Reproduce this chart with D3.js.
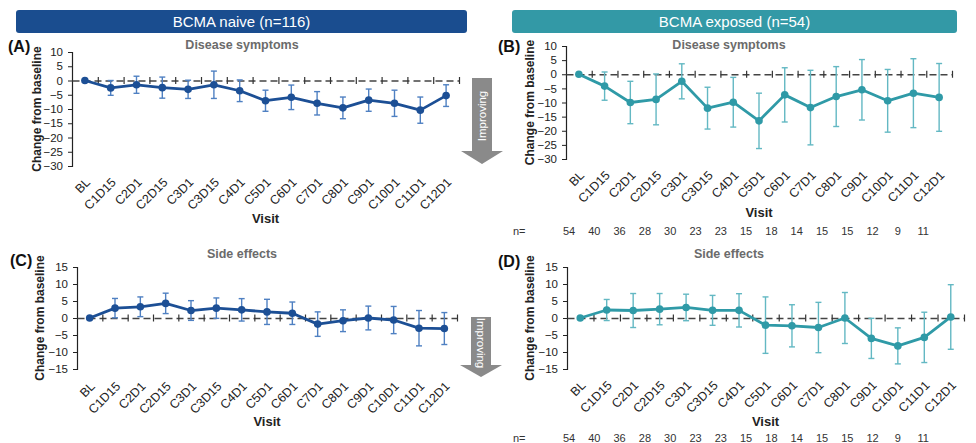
<!DOCTYPE html>
<html>
<head>
<meta charset="utf-8">
<script src="https://cdn.jsdelivr.net/npm/d3@7/dist/d3.min.js"></script>
<style>
  html, body { margin: 0; padding: 0; background: #fff; }
  svg { display: block; font-family: "Liberation Sans", Arial, sans-serif; }
</style>
</head>
<body>
<svg id="chart" width="976" height="443"></svg>
<script>
// Visits shared by all four panels
const visits = ["BL", "C1D15", "C2D1", "C2D15", "C3D1", "C3D15", "C4D1", "C5D1",
  "C6D1", "C7D1", "C8D1", "C9D1", "C10D1", "C11D1", "C12D1"];

// Mean change from baseline and error half-width per visit
const naiveSymptomsMean = [0, -2.6, -1.5, -2.5, -3.1, -1.5, -3.6, -7.1, -5.9, -8.0, -9.6, -6.9, -8.0, -10.4, -5.3];
const naiveSymptomsErr  = [0, 2.6, 3.0, 3.7, 3.2, 4.8, 3.8, 3.7, 4.3, 4.1, 3.8, 3.9, 4.6, 4.6, 3.8];

const exposedSymptomsMean = [0, -4.2, -10.0, -8.9, -2.5, -12.0, -9.9, -16.5, -7.3, -11.8, -7.9, -5.5, -9.4, -6.7, -8.2];
const exposedSymptomsErr  = [0, 5.0, 7.5, 9.0, 6.2, 7.4, 8.8, 9.8, 9.6, 13.2, 10.6, 10.7, 11.1, 12.2, 12.0];

const naiveSideMean = [0, 2.9, 3.3, 4.3, 2.2, 2.9, 2.4, 1.8, 1.4, -1.8, -0.8, 0, -0.6, -3.0, -3.1];
const naiveSideErr  = [0, 2.85, 2.9, 3.0, 2.9, 3.0, 3.3, 3.7, 3.3, 3.6, 3.2, 3.5, 4.0, 5.2, 4.7];

const exposedSideMean = [0, 2.35, 2.2, 2.6, 3.1, 2.25, 2.25, -2.1, -2.3, -2.8, 0, -6.0, -8.2, -5.7, 0.3];
const exposedSideErr  = [0, 3.1, 5.0, 4.6, 3.9, 4.4, 4.9, 8.3, 6.2, 7.4, 7.5, 5.9, 5.3, 7.4, 9.5];

// Patients contributing at each visit (BCMA exposed)
const exposedN = [54, 40, 36, 28, 30, 23, 23, 15, 18, 14, 15, 15, 12, 9, 11];

const symptomTicks = [10, 5, 0, -5, -10, -15, -20, -25, -30];
const sideTicks = [15, 10, 5, 0, -5, -10, -15];

const BLUE = "#1c4f95", BLUE_ERR = "#4f80c2";
const TEAL = "#2f9aa7", TEAL_ERR = "#63b8c3";

const svg = d3.select("#chart");

// Cohort header bars
function header(x, w, fill, label) {
  svg.append("rect").attr("x", x).attr("y", 10).attr("width", w).attr("height", 23)
    .attr("rx", 3).attr("fill", fill);
  svg.append("text").attr("x", x + w / 2).attr("y", 22).attr("dy", "0.35em")
    .attr("text-anchor", "middle").attr("fill", "#fff")
    .style("font-size", "15px").text(label);
}
header(16, 451, "#1a4d8f", "BCMA naive (n=116)");
header(512, 445, "#3399a6", "BCMA exposed (n=54)");

function panel(opts) {
  const { tag, tagX, tagY, title, titleX, titleY, x0, x1, yTop, yBot, domain, ticks, mean, err,
          color, errColor, labelTop, visitY, yLabelX, nY } = opts;
  const g = svg.append("g");
  const slot = d3.scaleLinear().domain([0, visits.length]).range([x0, x1]);
  const x = d3.scalePoint().domain(visits).range([slot(0.5), slot(visits.length - 0.5)]);
  const y = d3.scaleLinear().domain(domain).range([yBot, yTop]);

  // Panel letter and title
  svg.append("text").attr("x", tagX).attr("y", tagY).attr("dy", "0.35em")
    .style("font-size", "16px").style("font-weight", "bold").attr("fill", "#111").text(tag);
  svg.append("text").attr("x", titleX).attr("y", titleY).attr("dy", "0.35em")
    .attr("text-anchor", "middle").style("font-size", "12.5px").style("font-weight", "bold")
    .attr("fill", "#6b6b6b").text(title);

  // Y axis
  const ya = g.append("g").attr("transform", `translate(${x0},0)`)
    .call(d3.axisLeft(y).tickValues(ticks).tickSize(4).tickPadding(5));
  ya.select(".domain").attr("stroke", "#222").attr("stroke-width", 1.2);
  ya.selectAll(".tick line").attr("stroke", "#222");
  ya.selectAll(".tick text").attr("fill", "#222").style("font-size", "11.5px")
    .style("font-family", "'Liberation Sans', Arial, sans-serif");

  svg.append("text")
    .attr("transform", `translate(${yLabelX},${(yTop + yBot) / 2}) rotate(-90)`)
    .attr("text-anchor", "middle").attr("dy", "0.35em")
    .style("font-size", "12px").style("font-weight", "bold").attr("fill", "#222")
    .text("Change from baseline");

  // Dashed zero line with crossing ticks between visits
  const za = g.append("g").attr("transform", `translate(0,${y(0)})`)
    .call(d3.axisBottom(slot).tickValues(d3.range(1, visits.length + 1)).tickFormat("").tickSizeOuter(0));
  za.select(".domain").attr("stroke", "#444").attr("stroke-width", 1.4).attr("stroke-dasharray", "7,4");
  za.selectAll(".tick line").attr("y1", -3.5).attr("y2", 3.5).attr("stroke", "#333").attr("stroke-width", 1.2);

  // Visit labels
  g.selectAll(".vl").data(visits).join("text")
    .attr("transform", d => `translate(${x(d) + 3},${labelTop}) rotate(-45)`)
    .attr("text-anchor", "end").attr("dy", "0.35em")
    .style("font-size", "12.5px").attr("fill", "#222").text(d => d);
  svg.append("text").attr("x", (x0 + x1) / 2).attr("y", visitY).attr("dy", "0.35em")
    .attr("text-anchor", "middle").style("font-size", "13px").style("font-weight", "bold")
    .attr("fill", "#222").text("Visit");

  // Error bars
  const rows = visits.map((v, i) => ({ v, m: mean[i], e: err[i] })).filter(r => r.e > 0);
  const eb = g.append("g").attr("stroke", errColor).attr("stroke-width", 1.4).attr("fill", "none");
  eb.selectAll(".bar").data(rows).join("line")
    .attr("x1", d => x(d.v)).attr("x2", d => x(d.v))
    .attr("y1", d => y(d.m + d.e)).attr("y2", d => y(d.m - d.e));
  eb.selectAll(".capT").data(rows).join("line")
    .attr("x1", d => x(d.v) - 3).attr("x2", d => x(d.v) + 3)
    .attr("y1", d => y(d.m + d.e)).attr("y2", d => y(d.m + d.e));
  eb.selectAll(".capB").data(rows).join("line")
    .attr("x1", d => x(d.v) - 3).attr("x2", d => x(d.v) + 3)
    .attr("y1", d => y(d.m - d.e)).attr("y2", d => y(d.m - d.e));

  // Mean line and markers
  const pts = visits.map((v, i) => ({ v, m: mean[i] }));
  g.append("path").datum(pts)
    .attr("d", d3.line().x(d => x(d.v)).y(d => y(d.m)))
    .attr("fill", "none").attr("stroke", color).attr("stroke-width", 2.8)
    .attr("stroke-linejoin", "round");
  g.selectAll(".pt").data(pts).join("circle")
    .attr("cx", d => x(d.v)).attr("cy", d => y(d.m)).attr("r", 3.8).attr("fill", color);

  // Patient counts
  if (nY !== undefined) {
    svg.append("text").attr("x", 513).attr("y", nY).attr("dy", "0.35em")
      .style("font-size", "11px").attr("fill", "#333").text("n=");
    const nx = d3.scalePoint().domain(visits).range([569, 569 + 25.3 * (visits.length - 1)]);
    svg.selectAll(null).data(exposedN).join("text")
      .attr("x", (d, i) => nx(visits[i])).attr("y", nY).attr("dy", "0.35em")
      .attr("text-anchor", "middle").style("font-size", "11px").attr("fill", "#333")
      .text(d => d);
  }
}

// "Improving" direction arrows
function arrow(cx, top, shaftBot, tip, rot, labelY) {
  const a = svg.append("g");
  a.append("path")
    .attr("d", `M${cx - 10},${top} L${cx + 10},${top} L${cx + 10},${shaftBot} L${cx + 21},${shaftBot} ` +
      `L${cx},${tip} L${cx - 21},${shaftBot} L${cx - 10},${shaftBot} Z`)
    .attr("fill", "#8a8a8a");
  a.append("text").attr("transform", `translate(${cx},${labelY}) rotate(${rot})`)
    .attr("text-anchor", "middle").attr("dy", "0.35em")
    .style("font-size", "11.5px").attr("fill", "#fff").text("Improving");
}

panel({ tag: "(A)", tagX: 8, tagY: 46, title: "Disease symptoms", titleX: 242, titleY: 45,
  x0: 72, x1: 459, yTop: 52, yBot: 166,
  domain: [-30, 10], ticks: symptomTicks, mean: naiveSymptomsMean, err: naiveSymptomsErr,
  color: BLUE, errColor: BLUE_ERR, labelTop: 180, visitY: 218, yLabelX: 37 });
panel({ tag: "(B)", tagX: 498, tagY: 46, title: "Disease symptoms", titleX: 729, titleY: 45,
  x0: 566, x1: 952, yTop: 46, yBot: 159,
  domain: [-30, 10], ticks: symptomTicks, mean: exposedSymptomsMean, err: exposedSymptomsErr,
  color: TEAL, errColor: TEAL_ERR, labelTop: 173, visitY: 212, yLabelX: 530, nY: 231 });
panel({ tag: "(C)", tagX: 10, tagY: 260, title: "Side effects", titleX: 242, titleY: 254,
  x0: 77, x1: 457, yTop: 267, yBot: 369,
  domain: [-15, 15], ticks: sideTicks, mean: naiveSideMean, err: naiveSideErr,
  color: BLUE, errColor: BLUE_ERR, labelTop: 384, visitY: 421, yLabelX: 40 });
panel({ tag: "(D)", tagX: 498, tagY: 261, title: "Side effects", titleX: 729, titleY: 254,
  x0: 567, x1: 964, yTop: 267, yBot: 369,
  domain: [-15, 15], ticks: sideTicks, mean: exposedSideMean, err: exposedSideErr,
  color: TEAL, errColor: TEAL_ERR, labelTop: 383, visitY: 421, yLabelX: 530, nY: 438 });

arrow(482, 78, 151, 164, -90, 116);
arrow(481, 317, 365, 377, 90, 343);
</script>
</body>
</html>
